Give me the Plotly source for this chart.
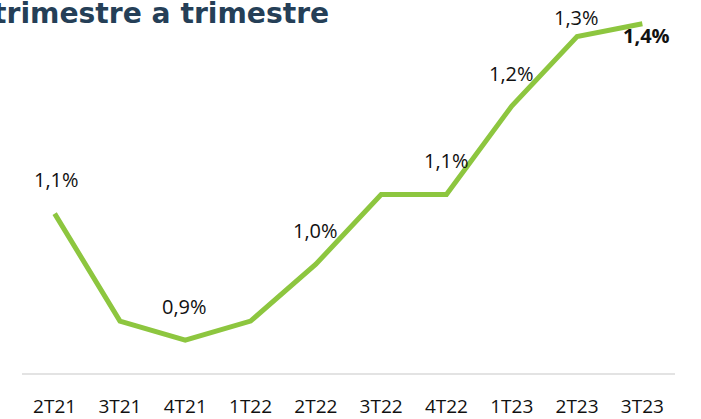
import plotly.graph_objects as go

categories = ["2T21", "3T21", "4T21", "1T22", "2T22", "3T22", "4T22", "1T23", "2T23", "3T23"]
values = [1.10, 0.93, 0.90, 0.93, 1.02, 1.13, 1.13, 1.27, 1.38, 1.40]
label_cats = ["2T21", "4T21", "2T22", "4T22", "1T23", "2T23", "3T23"]
label_vals = [1.10, 0.90, 1.02, 1.13, 1.27, 1.38, 1.40]
label_texts = ["1,1%", "0,9%", "1,0%", "1,1%", "1,2%", "1,3%", "<b>1,4%</b>"]
label_shift_y = [34, 34, 34, 34, 33, 19, -12]
label_shift_x = [2, -1, 0, 0, 0, -1, 4]
title_text = "trimestre a trimestre"

FONT = "Open Sans"

fig = go.Figure()
fig.add_trace(go.Scatter(
    x=categories, y=values, mode="lines",
    line=dict(color="#8DC63F", width=5),
    hoverinfo="skip", showlegend=False,
))

for c, v, t, sy, sx in zip(label_cats, label_vals, label_texts, label_shift_y, label_shift_x):
    fig.add_annotation(
        x=c, y=v, xref="x", yref="y", text=t, showarrow=False,
        yshift=sy, xshift=sx,
        font=dict(family=FONT, size=20, color="#111111"),
    )

fig.add_annotation(
    x=-0.0482, y=1.0, xref="paper", yref="paper", xanchor="left", yanchor="middle",
    yshift=-13, text="<b>" + title_text + "</b>", showarrow=False,
    font=dict(family="DejaVu Sans", size=28.2, color="#253F57"),
)

fig.update_layout(
    width=701, height=419,
    margin=dict(l=22, r=26, t=0, b=43),
    paper_bgcolor="white", plot_bgcolor="white",
    xaxis=dict(
        type="category", range=[-0.5, 9.5],
        showgrid=False, zeroline=False,
        showline=True, linecolor="#E3E3E3", linewidth=2,
        ticks="", tickfont=dict(family=FONT, size=19, color="#111111"),
        ticklabelstandoff=15,
    ),
    yaxis=dict(
        range=[0.848, 1.4376], visible=False, showgrid=False, zeroline=False,
    ),
)

fig.write_html("out.html", config={"displayModeBar": False},
               post_script="document.body.style.margin='0';")
